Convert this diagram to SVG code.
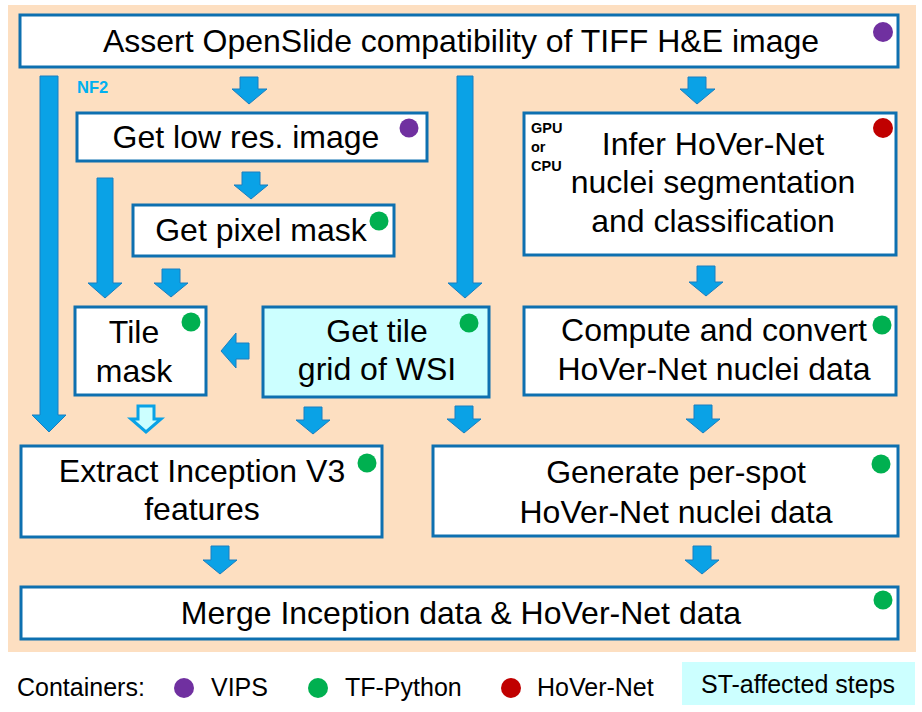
<svg xmlns="http://www.w3.org/2000/svg" width="922" height="712" viewBox="0 0 922 712">
<style>
.box{fill:#FFFFFF;stroke:#0E70B0;stroke-width:3}
.st{fill:#CCFFFF}
.t{font-family:"Liberation Sans",Arial,sans-serif;font-size:32px;fill:#000;text-anchor:middle}
.lg{font-family:"Liberation Sans",Arial,sans-serif;font-size:25px;fill:#000}
.sm{font-family:"Liberation Sans",Arial,sans-serif;font-size:14.5px;font-weight:bold;fill:#000}
.ar{fill:#0AA2E6;stroke:#1A7EC0;stroke-width:1}
.arh{fill:#CCFFFF;stroke:#0AA2E6;stroke-width:3}
.vips{fill:#7030A0}
.tf{fill:#00B050}
.hv{fill:#C00000}
</style>
<rect x="8" y="5" width="908" height="647" fill="#FDDFC1"/>

<g id="connectors">
<polygon class="ar" points="40,76 58,76 58,415 66,415 49,432 32,415 40,415"/>
<polygon class="ar" points="240,77 258,77 258,89 267,89 249,104 232,89 240,89"/>
<polygon class="ar" points="688,77 706,77 706,89 715,89 697,104 680,89 688,89"/>
<polygon class="ar" points="457,76 473,76 473,283 482,283 465,298 448,283 457,283"/>
<polygon class="ar" points="242,172 260,172 260,185 268,185 251,199 234,185 242,185"/>
<polygon class="ar" points="97,178 113,178 113,283 122,283 105,298 88,283 97,283"/>
<polygon class="ar" points="162,269 180,269 180,283 188,283 171,297 154,283 162,283"/>
<polygon class="ar" points="249,343 249,359 236,359 236,368 221,351 236,333 236,343"/>
<polygon class="arh" points="138,406 154,406 154,419 161,419 146,432 131,419 138,419"/>
<polygon class="ar" points="304,407 322,407 322,420 330,420 313,434 296,420 304,420"/>
<polygon class="ar" points="455,406 473,406 473,419 481,419 464,433 447,419 455,419"/>
<polygon class="ar" points="697,266 715,266 715,282 723,282 706,296 689,282 697,282"/>
<polygon class="ar" points="694,405 712,405 712,419 720,419 703,433 686,419 694,419"/>
<polygon class="ar" points="211,546 229,546 229,560 237,560 220,574 203,560 211,560"/>
<polygon class="ar" points="693,546 711,546 711,560 719,560 702,574 685,560 693,560"/>
<text x="77" y="93" font-family="Liberation Sans,Arial,sans-serif" font-size="16.5" font-weight="bold" fill="#00B0F0">NF2</text>
</g>

<g id="n-assert">
<rect class="box" x="20" y="15" width="878" height="52"/>
<text class="t" x="461" y="52">Assert OpenSlide compatibility of TIFF H&amp;E image</text>
<circle class="vips" cx="883" cy="32" r="10"/>
</g>

<g id="n-lowres">
<rect class="box" x="77" y="113" width="350" height="48"/>
<text class="t" x="246" y="148">Get low res. image</text>
<circle class="vips" cx="409" cy="128" r="9.5"/>
</g>

<g id="n-pixelmask">
<rect class="box" x="133" y="205" width="261" height="51"/>
<text class="t" x="261" y="241">Get pixel mask</text>
<circle class="tf" cx="379" cy="221" r="9.5"/>
</g>

<g id="n-infer">
<rect class="box" x="524" y="113" width="372" height="142"/>
<text class="sm" x="531" y="133">GPU</text>
<text class="sm" x="531" y="152">or</text>
<text class="sm" x="531" y="171">CPU</text>
<text class="t" x="713" y="155">Infer HoVer-Net</text>
<text class="t" x="713" y="193">nuclei segmentation</text>
<text class="t" x="713" y="232">and classification</text>
<circle class="hv" cx="883" cy="128" r="10"/>
</g>

<g id="n-tilemask">
<rect class="box" x="75" y="307" width="131" height="88"/>
<text class="t" x="134" y="343">Tile</text>
<text class="t" x="134" y="382">mask</text>
<circle class="tf" cx="191" cy="322" r="9.5"/>
</g>

<g id="n-tilegrid">
<rect class="box st" x="263" y="307" width="226" height="90"/>
<text class="t" x="377" y="342">Get tile</text>
<text class="t" x="377" y="380">grid of WSI</text>
<circle class="tf" cx="469" cy="323" r="9.5"/>
</g>

<g id="n-compute">
<rect class="box" x="524" y="307" width="372" height="88"/>
<text class="t" x="714" y="341">Compute and convert</text>
<text class="t" x="714" y="380">HoVer-Net nuclei data</text>
<circle class="tf" cx="882" cy="325" r="9.5"/>
</g>

<g id="n-extract">
<rect class="box" x="21" y="446" width="361" height="91"/>
<text class="t" x="202" y="482">Extract Inception V3</text>
<text class="t" x="202" y="520">features</text>
<circle class="tf" cx="367" cy="463" r="9.5"/>
</g>

<g id="n-generate">
<rect class="box" x="433" y="446" width="465" height="90"/>
<text class="t" x="676" y="483">Generate per-spot</text>
<text class="t" x="676" y="523">HoVer-Net nuclei data</text>
<circle class="tf" cx="881" cy="464" r="9.5"/>
</g>

<g id="n-merge">
<rect class="box" x="21" y="587" width="877" height="52"/>
<text class="t" x="461" y="624">Merge Inception data &amp; HoVer-Net data</text>
<circle class="tf" cx="883" cy="600" r="9.5"/>
</g>

<g id="legend">
<text class="lg" x="17" y="696">Containers:</text>
<circle class="vips" cx="184" cy="688" r="10"/>
<text class="lg" x="211" y="696">VIPS</text>
<circle class="tf" cx="318" cy="688" r="10"/>
<text class="lg" x="345" y="696">TF-Python</text>
<circle class="hv" cx="511" cy="688" r="10"/>
<text class="lg" x="537" y="696">HoVer-Net</text>
<rect class="st" x="682" y="662" width="233" height="43"/>
<text class="lg" x="798" y="693" text-anchor="middle">ST-affected steps</text>
</g>
</svg>
